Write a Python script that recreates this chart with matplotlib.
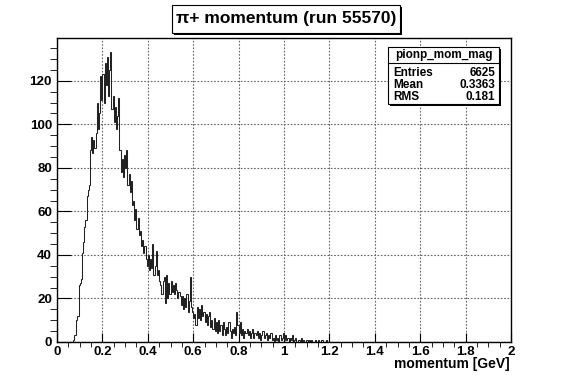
import matplotlib
matplotlib.use("Agg")
import matplotlib.pyplot as plt
from matplotlib.patches import Rectangle
from matplotlib.lines import Line2D
from matplotlib.ticker import MultipleLocator, FuncFormatter
import numpy as np

W, H = 567, 381
plt.rcParams["font.family"] = ["Liberation Sans", "DejaVu Sans"]
plt.rcParams["font.weight"] = "bold"

# histogram: 400 bins over 0..2 GeV, counts listed from first_bin upward
x_lo, x_hi, n_bins = 0.0, 2.0, 400
first_bin = 0.070
counts = [
    1, 3, 3, 10, 12, 26, 27, 29, 41, 46,            # 0.070
    53, 56, 67, 70, 72, 88, 94, 87, 93, 89,         # 0.120
    96, 110, 98, 105, 122, 111, 123, 110, 128, 118,  # 0.170
    131, 113, 125, 133, 107, 113, 101, 108, 98, 104,  # 0.220
    112, 88, 78, 84, 76, 86, 80, 88, 72, 77,        # 0.270
    69, 74, 63, 65, 56, 61, 52, 57, 49, 51,         # 0.320
    44, 47, 41, 44, 38, 35, 40, 33, 38, 34,         # 0.370
    45, 31, 35, 42, 31, 33, 28, 26, 22, 28,         # 0.420
    30, 18, 31, 20, 27, 22, 28, 23, 26, 22,         # 0.470
    27, 24, 20, 23, 21, 17, 21, 15, 20, 16,         # 0.520
    22, 14, 19, 30, 16, 14, 11, 13, 8, 16,          # 0.570
    11, 15, 10, 17, 12, 14, 9, 13, 8, 12,           # 0.620
    14, 7, 10, 6, 11, 5, 9, 4, 10, 5,               # 0.670
    8, 3, 9, 6, 3, 7, 4, 9, 5, 2,                   # 0.720
    6, 4, 7, 3, 14, 8, 4, 9, 3, 6,                  # 0.770
    2, 5, 4, 6, 3, 5, 2, 4, 6, 2,                   # 0.820
    4, 3, 5, 2, 4, 1, 3, 5, 2, 3,                   # 0.870
    4, 1, 3, 2, 4, 1, 2, 0, 3, 1,                   # 0.920
    2, 0, 3, 1, 2, 4, 1, 3, 1, 2,                   # 0.970
    0, 2, 1, 3, 0, 1, 2, 0, 1, 1,                   # 1.020
    0, 2, 0, 1, 0, 1, 1, 0, 1, 0,                   # 1.070
    1, 0, 0, 1, 0, 0, 1, 0, 0, 1,                   # 1.120
    0, 0, 0, 1,                                     # 1.170
]

title = "π+ momentum (run 55570)"
xlabel = "momentum [GeV]"
stats_name = "pionp_mom_mag"
stats_rows = [("Entries", "6625"), ("Mean", "0.3363"), ("RMS", "0.181")]


def fx(px):
    return px / W


def fy(py):
    return 1 - py / H


def box(fig, x0, y0, x1, y1, shadow=2):
    # ROOT-style pave: dark shadow offset down-right, white box on top
    fig.add_artist(Rectangle((fx(x0 + shadow), fy(y1 + shadow)),
                             (x1 - x0) / W, (y1 - y0) / H,
                             facecolor="black", edgecolor="none"))
    fig.add_artist(Rectangle((fx(x0), fy(y1)), (x1 - x0) / W,
                             (y1 - y0) / H, facecolor="white",
                             edgecolor="black", lw=0.8))


edges = np.linspace(x_lo, x_hi, n_bins + 1)
full = np.zeros(n_bins)
start = int(round((first_bin - x_lo) / ((x_hi - x_lo) / n_bins)))
full[start:start + len(counts)] = counts

fig = plt.figure(figsize=(W / 100, H / 100), dpi=100)
ax = fig.add_axes([fx(57), fy(342), (511 - 57) / W, (342 - 38) / H])
ax.stairs(full, edges, color="#222222", lw=0.75)
ax.set_xlim(x_lo, x_hi)
ax.set_ylim(0, 1.05 * max(counts))

ax.xaxis.set_major_locator(MultipleLocator(0.2))
ax.xaxis.set_minor_locator(MultipleLocator(0.05))
ax.yaxis.set_major_locator(MultipleLocator(20))
ax.yaxis.set_minor_locator(MultipleLocator(5))
ax.xaxis.set_major_formatter(FuncFormatter(lambda v, p: f"{v:g}"))
ax.tick_params(direction="in", top=False, right=False, labelsize=9.6,
               width=0.8, color="black")
ax.tick_params(axis="x", which="major", length=6.5, pad=3.0)
ax.tick_params(axis="x", which="minor", length=3.3)
ax.tick_params(axis="y", which="major", length=9.8, pad=3.6)
ax.tick_params(axis="y", which="minor", length=4.9)
ax.grid(True, which="major", color="#666666", ls=(0, (1.5, 1.5)), lw=0.8)
ax.set_axisbelow(True)
for s in ax.spines.values():
    s.set_linewidth(1.0)

fig.text(fx(510), fy(368), xlabel, ha="right", va="baseline", fontsize=10)

# title pave
box(fig, 172, 5, 400, 33)
fig.text(fx(286), fy(19), title, ha="center", va="center", fontsize=12.5)

# stats pave
box(fig, 388, 47, 499, 104)
fig.add_artist(Line2D([fx(388), fx(499)], [fy(63), fy(63)], color="black",
                      lw=0.8))
fig.text(fx(443.5), fy(55), stats_name, ha="center", va="center",
         fontsize=8.5)
for i, (name, val) in enumerate(stats_rows):
    yy = 73.3 + 11.7 * i
    fig.text(fx(393), fy(yy), name, ha="left", va="center", fontsize=8.5)
    fig.text(fx(495), fy(yy), val, ha="right", va="center", fontsize=8.5)

fig.savefig("out.png", dpi=100)
